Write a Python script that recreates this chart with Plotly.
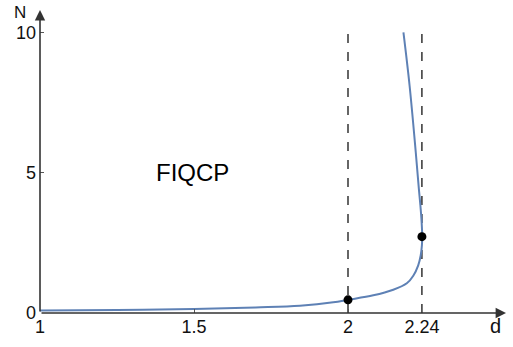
import plotly.graph_objects as go

# curve (d, N)
curve_d = [1.0, 1.25, 1.5, 1.7, 1.844, 1.952, 2.0, 2.082, 2.147, 2.191, 2.212, 2.228, 2.236, 2.240, 2.241, 2.239, 2.235, 2.230, 2.220, 2.200, 2.180]
curve_N = [0.09, 0.11, 0.14, 0.2, 0.26, 0.38, 0.47, 0.63, 0.83, 1.06, 1.33, 1.7, 2.05, 2.42, 2.72, 3.25, 3.84, 4.43, 5.73, 8.1, 10.0]

crit_d = [2.0, 2.24]
crit_N = [0.47, 2.72]
dash_d = [2.0, 2.24]

xtick_vals = [1, 1.5, 2, 2.24]
xtick_text = ["1", "1.5", "2", "2.24"]
ytick_vals = [0, 5, 10]
ytick_text = ["0", "5", "10"]

fig = go.Figure()
for xv in dash_d:
    fig.add_trace(go.Scatter(x=[xv, xv], y=[0, 10], mode="lines",
                             line=dict(color="black", width=1.2, dash="dash"),
                             hoverinfo="skip", showlegend=False))
fig.add_trace(go.Scatter(x=curve_d, y=curve_N, mode="lines", line_shape="spline",
                         line=dict(color="#5E81B5", width=2, smoothing=1.0), showlegend=False))
fig.add_trace(go.Scatter(x=crit_d, y=crit_N, mode="markers",
                         marker=dict(color="black", size=9), showlegend=False))

axis_col = "#555555"
fig.update_layout(
    width=513, height=347,
    margin=dict(l=40, r=11, t=10, b=32),
    plot_bgcolor="white", paper_bgcolor="white",
    font=dict(family="Liberation Sans, Arial, sans-serif", size=18, color="#111111"),
    xaxis=dict(range=[1, 2.5], tickvals=xtick_vals, ticktext=xtick_text,
               showgrid=False, zeroline=False, showline=False,
               ticks="inside", ticklen=4, tickcolor=axis_col, ticklabelstandoff=1),
    yaxis=dict(range=[0, 10.8], tickvals=ytick_vals, ticktext=ytick_text,
               showgrid=False, zeroline=False, showline=False,
               ticks="inside", ticklen=4, tickcolor=axis_col, ticklabelstandoff=3),
    annotations=[
        dict(x=2.513, y=0, ax=1, ay=0, xref="x", yref="y", axref="x", ayref="y",
             showarrow=True, arrowhead=2, arrowsize=1.3, arrowwidth=1.6,
             arrowcolor="#333333", text=""),
        dict(x=1, y=10.8, ax=1, ay=0, xref="x", yref="y", axref="x", ayref="y",
             showarrow=True, arrowhead=2, arrowsize=1.3, arrowwidth=1.6,
             arrowcolor="#333333", text=""),
        dict(x=0.987, y=-0.043, xref="paper", yref="paper", text="d", showarrow=False,
             font=dict(size=20), xanchor="center", yanchor="middle"),
        dict(x=-0.043, y=0.993, xref="paper", yref="paper", text="N", showarrow=False,
             font=dict(size=17), xanchor="center", yanchor="middle"),
        dict(x=1.494, y=5.0, xref="x", yref="y", text="FIQCP", showarrow=False,
             font=dict(size=24, color="black"), xanchor="center", yanchor="middle"),
    ],
)
fig.write_html("out.html", config={"displayModeBar": False},
               post_script="document.body.style.margin='0px';")
